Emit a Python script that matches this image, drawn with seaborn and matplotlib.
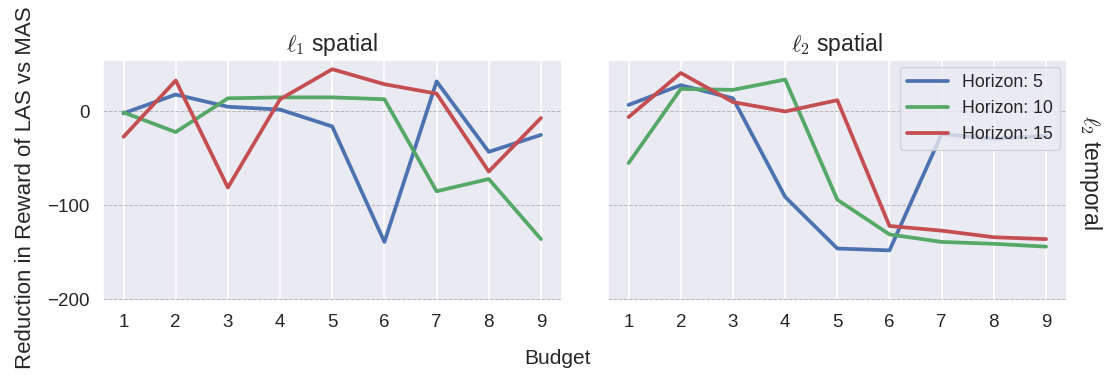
import pandas as pd
import matplotlib
matplotlib.use("Agg")
import matplotlib.pyplot as plt
import seaborn as sns

# ======= data =======
budget = [1, 2, 3, 4, 5, 6, 7, 8, 9]
horizons = [5, 10, 15]

l1_h5 = [-2, 18, 5, 2, -16, -139, 32, -43, -25]
l1_h10 = [-1, -22, 14, 15, 15, 13, -85, -72, -136]
l1_h15 = [-27, 33, -81, 13, 45, 29, 19, -64, -7]

l2_h5 = [7, 28, 14, -91, -146, -148, -24, -29, -26]
l2_h10 = [-55, 24, 23, 34, -94, -131, -139, -141, -144]
l2_h15 = [-6, 41, 10, 0, 12, -122, -127, -134, -136]

panel_titles = [r"$\ell_1$ spatial", r"$\ell_2$ spatial"]
yticks = [0, -100, -200]

# ======= long-form frames =======
def make_df(series):
    rows = []
    for h, vals in zip(horizons, series):
        for b, v in zip(budget, vals):
            rows.append({"Budget": b, "value": v, "Horizon": f"Horizon: {h}"})
    return pd.DataFrame(rows)

df_l1 = make_df([l1_h5, l1_h10, l1_h15])
df_l2 = make_df([l2_h5, l2_h10, l2_h15])

sns.set_theme(style="darkgrid")
plt.rcParams['font.family'] = ['Liberation Sans', 'DejaVu Sans']
plt.rcParams['mathtext.fontset'] = 'cm'

palette = sns.color_palette("deep")
colors = [palette[0], palette[2], palette[3]]

fig, axes = plt.subplots(1, 2, figsize=(11.16, 3.91), dpi=100, sharey=True)
fig.subplots_adjust(left=0.092, right=0.956, top=0.847, bottom=0.23, wspace=0.1)

for ax, df, title in zip(axes, [df_l1, df_l2], panel_titles):
    sns.lineplot(data=df, x="Budget", y="value", hue="Horizon",
                 palette=colors, linewidth=2.7, ax=ax)
    ax.set_title(title, fontsize=16.5, pad=6)
    ax.set_xlabel("")
    ax.set_ylabel("")
    ax.set_xlim(0.6, 9.4)
    ax.set_ylim(-202, 55)
    ax.set_xticks(budget)
    ax.set_yticks(yticks)
    ax.tick_params(labelsize=13.5, colors="#262626")
    ax.yaxis.grid(True, linestyle="--", color="#b8b8b8", linewidth=0.7)
    ax.xaxis.grid(True, color="white", linewidth=1.2)

axes[0].get_legend().remove()
leg = axes[1].legend(loc="upper right", fontsize=12.8, frameon=True,
                     handlelength=2.3, borderaxespad=0.4)
leg.get_frame().set_alpha(0.8)

fig.supylabel("Reduction in Reward of LAS vs MAS", x=0.013, y=0.52, fontsize=16)
fig.supxlabel("Budget", y=0.06, fontsize=15)
fig.text(0.977, 0.56, r"$\ell_2$ temporal", rotation=270, fontsize=16.5,
         ha="center", va="center")

plt.savefig("out.png", dpi=100)
